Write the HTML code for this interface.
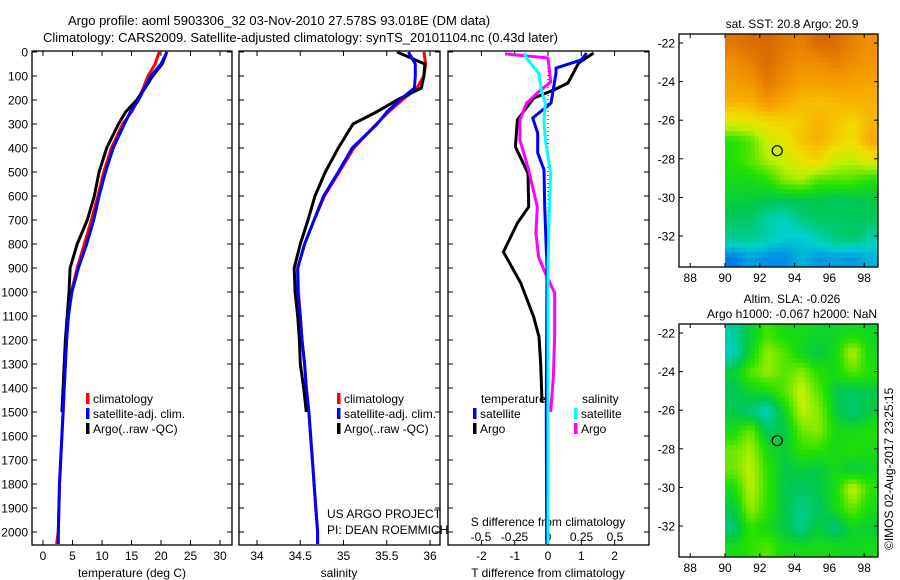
<!DOCTYPE html>
<html><head><meta charset="utf-8">
<style>
html,body{margin:0;padding:0;background:#fff;}
svg{display:block;font-family:"Liberation Sans",sans-serif;}
text{font-size:12px;fill:#000;}
</style></head>
<body>
<svg id="fig" width="900" height="580" viewBox="0 0 900 580" xmlns="http://www.w3.org/2000/svg">
<text x="68" y="25" style="font-size:13px">Argo profile: aoml 5903306_32 03-Nov-2010 27.578S 93.018E (DM data)</text>
<text x="43" y="42" style="font-size:13px">Climatology: CARS2009. Satellite-adjusted climatology: synTS_20101104.nc (0.43d later)</text>
<g id="p1"></g>
<g id="p2"></g>
<g id="p3"></g>
<g id="m1"></g>
<g id="m2"></g>
<text transform="translate(893,550) rotate(-90)" style="font-size:12px">©IMOS 02-Aug-2017 23:25:15</text>
</svg>
<script>
// ---------- data ----------
const depths = [0,50,100,150,200,250,300,400,500,600,700,800,900,1000,1100,1200,1300,1400,1500,1600,1700,1800,1900,2000,2050];
const tempClim = [19.7,19.0,17.8,17.0,16.1,15.0,13.5,11.6,10.3,9.3,8.2,7.0,5.8,4.8,4.3,4.0,3.8,3.6,3.4,3.2,3.0,2.8,2.7,2.6,2.3];
const tempSat = [21.0,20.0,18.3,17.2,16.2,14.8,13.8,11.9,10.6,9.5,8.6,7.4,6.0,4.9,4.3,4.0,3.8,3.6,3.4,3.2,3.0,2.8,2.7,2.6,2.6];
const tempArgo = [21.0,20.2,18.6,17.3,15.9,14.0,12.8,10.8,9.5,8.7,7.5,5.8,4.6,4.4,4.1,3.8,3.6,3.4,3.2];
const salClim = [35.93,35.95,35.93,35.85,35.68,35.52,35.38,35.12,34.95,34.78,34.66,34.55,34.47,34.48,34.5,34.52,34.55,34.57,34.6,34.62,34.64,34.66,34.68,34.7,34.7];
const salSat = [35.75,35.83,35.83,35.82,35.65,35.5,35.39,35.1,34.94,34.77,34.66,34.55,34.47,34.47,34.5,34.52,34.55,34.57,34.6,34.62,34.64,34.66,34.68,34.7,34.7];
const salArgo = [35.62,35.94,35.93,35.9,35.62,35.38,35.11,34.94,34.79,34.67,34.59,34.5,34.43,34.44,34.47,34.49,34.5,34.54,34.57];

const dtArgoDepth = [4,46,129,158,192,283,395,505,645,713,833,962,1104,1187,1300,1460];
const dtArgo = [1.37,0.92,0.6,0.18,-0.43,-0.92,-0.98,-0.6,-0.58,-0.92,-1.34,-0.82,-0.43,-0.27,-0.22,-0.18];
const dsArgoDepth = [8,25,125,166,213,283,367,479,645,754,854,921,1004,1171,1350,1500];
const dsArgo = [-0.32,0,0.02,-0.07,-0.16,-0.21,-0.21,-0.15,-0.08,-0.09,-0.07,-0.02,0.05,0.05,0.04,0.02];
const dtSatDepth = [4,33,67,88,213,275,338,421,491,645,896,1500,2050];
const dtSat = [1.16,1.0,0.24,0.24,0.09,-0.46,-0.31,-0.31,-0.12,-0.1,-0.03,-0.05,-0.04];
const dsSatDepth = [4,33,88,158,213,283,367,505,645,900,1500,2050];
const dsSat = [-0.18,-0.15,-0.07,-0.05,-0.02,-0.03,-0.02,0.02,0.01,0.0,0.0,0.0];

const depthTicks = [0,100,200,300,400,500,600,700,800,900,1000,1100,1200,1300,1400,1500,1600,1700,1800,1900,2000];
const tempTicks = [0,5,10,15,20,25,30];
const salTicks = [34,34.5,35,35.5,36];
const salTickLabels = ["34","34.5","35","35.5","36"];
const dtTicks = [-2,-1,0,1,2];
const dsTicks = [-0.5,-0.25,0,0.25,0.5];
const dsTickLabels = ["-0.5","-0.25","0","0.25","0.5"];
const lonTicks = [88,90,92,94,96,98];
const latTicks = [-22,-24,-26,-28,-30,-32];

const sstGrid = [
[.95,.97,.98,.95,.93,.98,.97,.93,.9],
[.9,.93,.97,.93,.9,.9,.93,.9,.88],
[.86,.88,.95,.9,.85,.85,.86,.85,.83],
[.8,.8,.88,.82,.78,.76,.78,.8,.8],
[.66,.68,.72,.73,.75,.8,.76,.72,.78],
[.45,.5,.62,.68,.76,.8,.74,.7,.82],
[.45,.5,.58,.62,.7,.72,.62,.6,.66],
[.42,.42,.45,.55,.58,.5,.5,.5,.45],
[.38,.38,.36,.36,.36,.36,.34,.35,.36],
[.33,.33,.25,.22,.3,.33,.33,.33,.34],
[.28,.28,.25,.2,.18,.25,.3,.33,.25],
[.05,.12,.08,.08,.15,.1,.12,.1,.15]];
const slaGrid = [
[.25,.38,.48,.42,.42,.4,.4,.42,.4],
[.22,.4,.56,.5,.4,.36,.42,.6,.42],
[.38,.5,.56,.5,.55,.45,.42,.5,.45],
[.33,.4,.42,.5,.62,.5,.36,.33,.36],
[.36,.3,.22,.4,.6,.55,.38,.3,.36],
[.42,.52,.33,.36,.52,.55,.42,.42,.45],
[.52,.58,.42,.38,.46,.46,.42,.45,.42],
[.52,.6,.46,.36,.38,.36,.42,.36,.4],
[.42,.6,.46,.36,.33,.36,.42,.62,.46],
[.36,.56,.46,.36,.28,.33,.42,.52,.42],
[.3,.46,.42,.36,.28,.38,.3,.4,.38],
[.42,.46,.5,.42,.42,.42,.42,.4,.42]];
const argoLon = 93.0, argoLat = -27.58;

// ---------- helpers ----------
const NS = "http://www.w3.org/2000/svg";
function mk(parent, tag, attrs, name, inter) {
  const e = document.createElementNS(NS, tag);
  for (const k in attrs) e.setAttribute(k, attrs[k]);
  
  
  parent.appendChild(e);
  return e;
}
function txt(parent, x, y, s, name, anchor) {
  const t = mk(parent, 'text', {x: x, y: y, 'text-anchor': anchor || 'start'}, name, false);
  t.textContent = s;
  return t;
}
const yD = d => 52 + 0.24 * d;
const TOP = 51, BOT = 545;

function frame(g, x0, x1, name) {
  mk(g, 'rect', {x: x0, y: TOP, width: x1 - x0, height: BOT - TOP, fill: 'none', stroke: '#000', 'stroke-width': 1.3}, name, false);
}
function depthTickMarks(g, x0, x1, labels) {
  depthTicks.forEach(d => {
    const y = yD(d);
    mk(g, 'line', {x1: x0, x2: x0 + 5, y1: y, y2: y, stroke: '#000'}, 'depth-tick', false);
    mk(g, 'line', {x1: x1 - 5, x2: x1, y1: y, y2: y, stroke: '#000'}, 'depth-tick', false);
    if (labels) txt(g, 28, y + 4.5, String(d), 'depth-tick-label', 'end');
  });
}
function xTicks(g, vals, labs, fx, ly, name, top) {
  vals.forEach((v, i) => {
    const x = fx(v);
    mk(g, 'line', {x1: x, x2: x, y1: BOT, y2: BOT - 5, stroke: '#000'}, name + '-tick', false);
    if (top) mk(g, 'line', {x1: x, x2: x, y1: TOP, y2: TOP + 5, stroke: '#000'}, name + '-tick', false);
    if (ly) txt(g, x, ly, labs[i], name + '-tick-label', 'middle');
  });
}
function line(g, xs, ds, fx, color, name, w) {
  const pts = xs.map((v, i) => fx(v).toFixed(1) + ',' + yD(ds[i]).toFixed(1)).join(' ');
  mk(g, 'polyline', {points: pts, fill: 'none', stroke: color, 'stroke-width': w || 3, 'stroke-linejoin': 'round'}, name, false);
}
function legendEntry(g, x, y, color, label, name) {
  mk(g, 'rect', {x: x, y: y - 10, width: 3.5, height: 11, fill: color}, name + '-swatch', false);
  txt(g, x + 7, y, label, name + '-label');
}

// ---------- panel 1 ----------
const p1 = document.getElementById('p1');
const fxT = v => 43 + 5.9 * v;
frame(p1, 32, 232, 'temperature-axes-frame');
depthTickMarks(p1, 32, 232, true);
xTicks(p1, tempTicks, tempTicks.map(String), fxT, 560, 'temperature-x', true);
txt(p1, 132, 577, 'temperature (deg C)', 'temperature-x-axis-title', 'middle');
line(p1, tempClim, depths, fxT, '#ff0000', 'temperature-climatology-line');
line(p1, tempArgo, depths, fxT, '#000000', 'temperature-argo-line');
line(p1, tempSat, depths, fxT, '#0000ff', 'temperature-satellite-line');
legendEntry(p1, 86, 403, '#ff0000', 'climatology', 'legend-climatology');
legendEntry(p1, 86, 418, '#0000ff', 'satellite-adj. clim.', 'legend-satellite');
legendEntry(p1, 86, 433, '#000000', 'Argo(..raw -QC)', 'legend-argo');

// ---------- panel 2 ----------
const p2 = document.getElementById('p2');
const fxS = v => 257 + 86.5 * (v - 34);
frame(p2, 239, 440, 'salinity-axes-frame');
depthTickMarks(p2, 239, 440, false);
xTicks(p2, salTicks, salTickLabels, fxS, 560, 'salinity-x', true);
txt(p2, 339, 577, 'salinity', 'salinity-x-axis-title', 'middle');
line(p2, salClim, depths, fxS, '#ff0000', 'salinity-climatology-line');
line(p2, salArgo, depths, fxS, '#000000', 'salinity-argo-line');
line(p2, salSat, depths, fxS, '#0000ff', 'salinity-satellite-line');
legendEntry(p2, 337, 403, '#ff0000', 'climatology', 'legend-climatology');
legendEntry(p2, 337, 418, '#0000ff', 'satellite-adj. clim.', 'legend-satellite');
legendEntry(p2, 337, 433, '#000000', 'Argo(..raw -QC)', 'legend-argo');
txt(p2, 327, 518, 'US ARGO PROJECT', 'project-credit');
txt(p2, 327, 534, 'PI: DEAN ROEMMICH', 'pi-credit');

// ---------- panel 3 ----------
const p3 = document.getElementById('p3');
const fxDT = v => 548 + 33.3 * v;
const fxDS = v => 548 + 134 * v;
frame(p3, 448, 649, 'difference-axes-frame');
depthTickMarks(p3, 448, 649, false);
xTicks(p3, dtTicks, dtTicks.map(String), fxDT, 560, 'tdiff-x', true);
dsTicks.forEach((v, i) => txt(p3, fxDS(v), 541, dsTickLabels[i], 'sdiff-tick-label', 'middle'));
txt(p3, 548, 526, 'S difference from climatology', 'sdiff-axis-title', 'middle');
txt(p3, 548, 577, 'T difference from climatology', 'tdiff-axis-title', 'middle');
mk(p3, 'line', {x1: fxDT(0), x2: fxDT(0), y1: TOP, y2: BOT, stroke: '#000', 'stroke-dasharray': '1,3'}, 'zero-line', false);
line(p3, dtArgo, dtArgoDepth, fxDT, '#000000', 'tdiff-argo-line');
line(p3, dsArgo, dsArgoDepth, fxDS, '#ff00ff', 'sdiff-argo-line');
line(p3, dtSat, dtSatDepth, fxDT, '#0000ff', 'tdiff-satellite-line');
line(p3, dsSat, dsSatDepth, fxDS, '#00ffff', 'sdiff-satellite-line');
txt(p3, 481, 403, 'temperature', 'legend-temperature-heading');
txt(p3, 582, 403, 'salinity', 'legend-salinity-heading');
legendEntry(p3, 473, 418, '#0000ff', 'satellite', 'legend-t-satellite');
legendEntry(p3, 473, 433, '#000000', 'Argo', 'legend-t-argo');
legendEntry(p3, 574, 418, '#00ffff', 'satellite', 'legend-s-satellite');
legendEntry(p3, 574, 433, '#ff00ff', 'Argo', 'legend-s-argo');

// ---------- maps ----------
const cstops = [[0,[0,96,240]],[0.2,[0,208,208]],[0.35,[0,200,80]],[0.45,[32,224,0]],[0.6,[192,240,0]],[0.7,[240,224,0]],[0.8,[248,176,0]],[0.9,[240,144,0]],[1,[208,96,0]]];
function cmap(v) {
  for (let i = 1; i < cstops.length; i++) {
    if (v <= cstops[i][0]) {
      const a = cstops[i-1], b = cstops[i], t = (v - a[0]) / (b[0] - a[0]);
      const c = a[1].map((x, k) => Math.round(x + (b[1][k] - x) * t));
      return 'rgb(' + c.join(',') + ')';
    }
  }
  return 'rgb(208,96,0)';
}
function sample(grid, fr, fc) {
  const rows = grid.length, cols = grid[0].length;
  const r = Math.min(Math.max(fr, 0), rows - 1), c = Math.min(Math.max(fc, 0), cols - 1);
  const r0 = Math.floor(r), c0 = Math.floor(c), r1 = Math.min(r0 + 1, rows - 1), c1 = Math.min(c0 + 1, cols - 1);
  const tr = r - r0, tc = c - c0;
  const a = grid[r0][c0] * (1 - tc) + grid[r0][c1] * tc;
  const b = grid[r1][c0] * (1 - tc) + grid[r1][c1] * tc;
  return a * (1 - tr) + b * tr;
}
function drawMap(id, top, bot, grid, lines) {
  const g = document.getElementById(id);
  const L = 679, R = 878, dataL = 725;
  const fxLon = lon => 725 + 17.4 * (lon - 90);
  const lat22 = top + 9, fyLat = lat => lat22 + 19.3 * (-22 - lat);
  const rows = grid.length, cols = grid[0].length, up = 4;
  const cw = (R - dataL) / (cols * up), ch = (bot - top) / (rows * up);
  for (let r = 0; r < rows * up; r++) for (let c = 0; c < cols * up; c++) {
    const v = sample(grid, (r + 0.5) / up - 0.5, (c + 0.5) / up - 0.5);
    mk(g, 'rect', {x: (dataL + c * cw).toFixed(2), y: (top + r * ch).toFixed(2), width: (cw + 0.5).toFixed(2), height: (ch + 0.5).toFixed(2), fill: cmap(v)}, 'map-cell', false);
  }
  mk(g, 'rect', {x: L, y: top, width: R - L, height: bot - top, fill: 'none', stroke: '#000', 'stroke-width': 1.3}, 'map-frame', false);
  lonTicks.forEach(lon => {
    const x = fxLon(lon);
    mk(g, 'line', {x1: x, x2: x, y1: bot, y2: bot - 4, stroke: '#000'}, 'lon-tick', false);
    mk(g, 'line', {x1: x, x2: x, y1: top, y2: top + 4, stroke: '#000'}, 'lon-tick', false);
    txt(g, x, bot + 15, String(lon), 'lon-tick-label', 'middle');
  });
  latTicks.forEach(lat => {
    const y = fyLat(lat);
    mk(g, 'line', {x1: L, x2: L + 4, y1: y, y2: y, stroke: '#000'}, 'lat-tick', false);
    mk(g, 'line', {x1: R - 4, x2: R, y1: y, y2: y, stroke: '#000'}, 'lat-tick', false);
    txt(g, 675, y + 4.5, String(lat), 'lat-tick-label', 'end');
  });
  mk(g, 'circle', {cx: fxLon(argoLon), cy: fyLat(argoLat), r: 5, fill: 'none', stroke: '#000', 'stroke-width': 1.2}, 'argo-location-marker', false);
  lines.forEach((s, i) => txt(g, 792, top - 6 - (lines.length - 1 - i) * 15, s, 'map-title', 'middle'));
}
drawMap('m1', 34, 267, sstGrid, ['sat. SST: 20.8 Argo: 20.9']);
drawMap('m2', 324, 557, slaGrid, ['Altim. SLA: -0.026', 'Argo h1000: -0.067 h2000: NaN']);
</script>
</body></html>
